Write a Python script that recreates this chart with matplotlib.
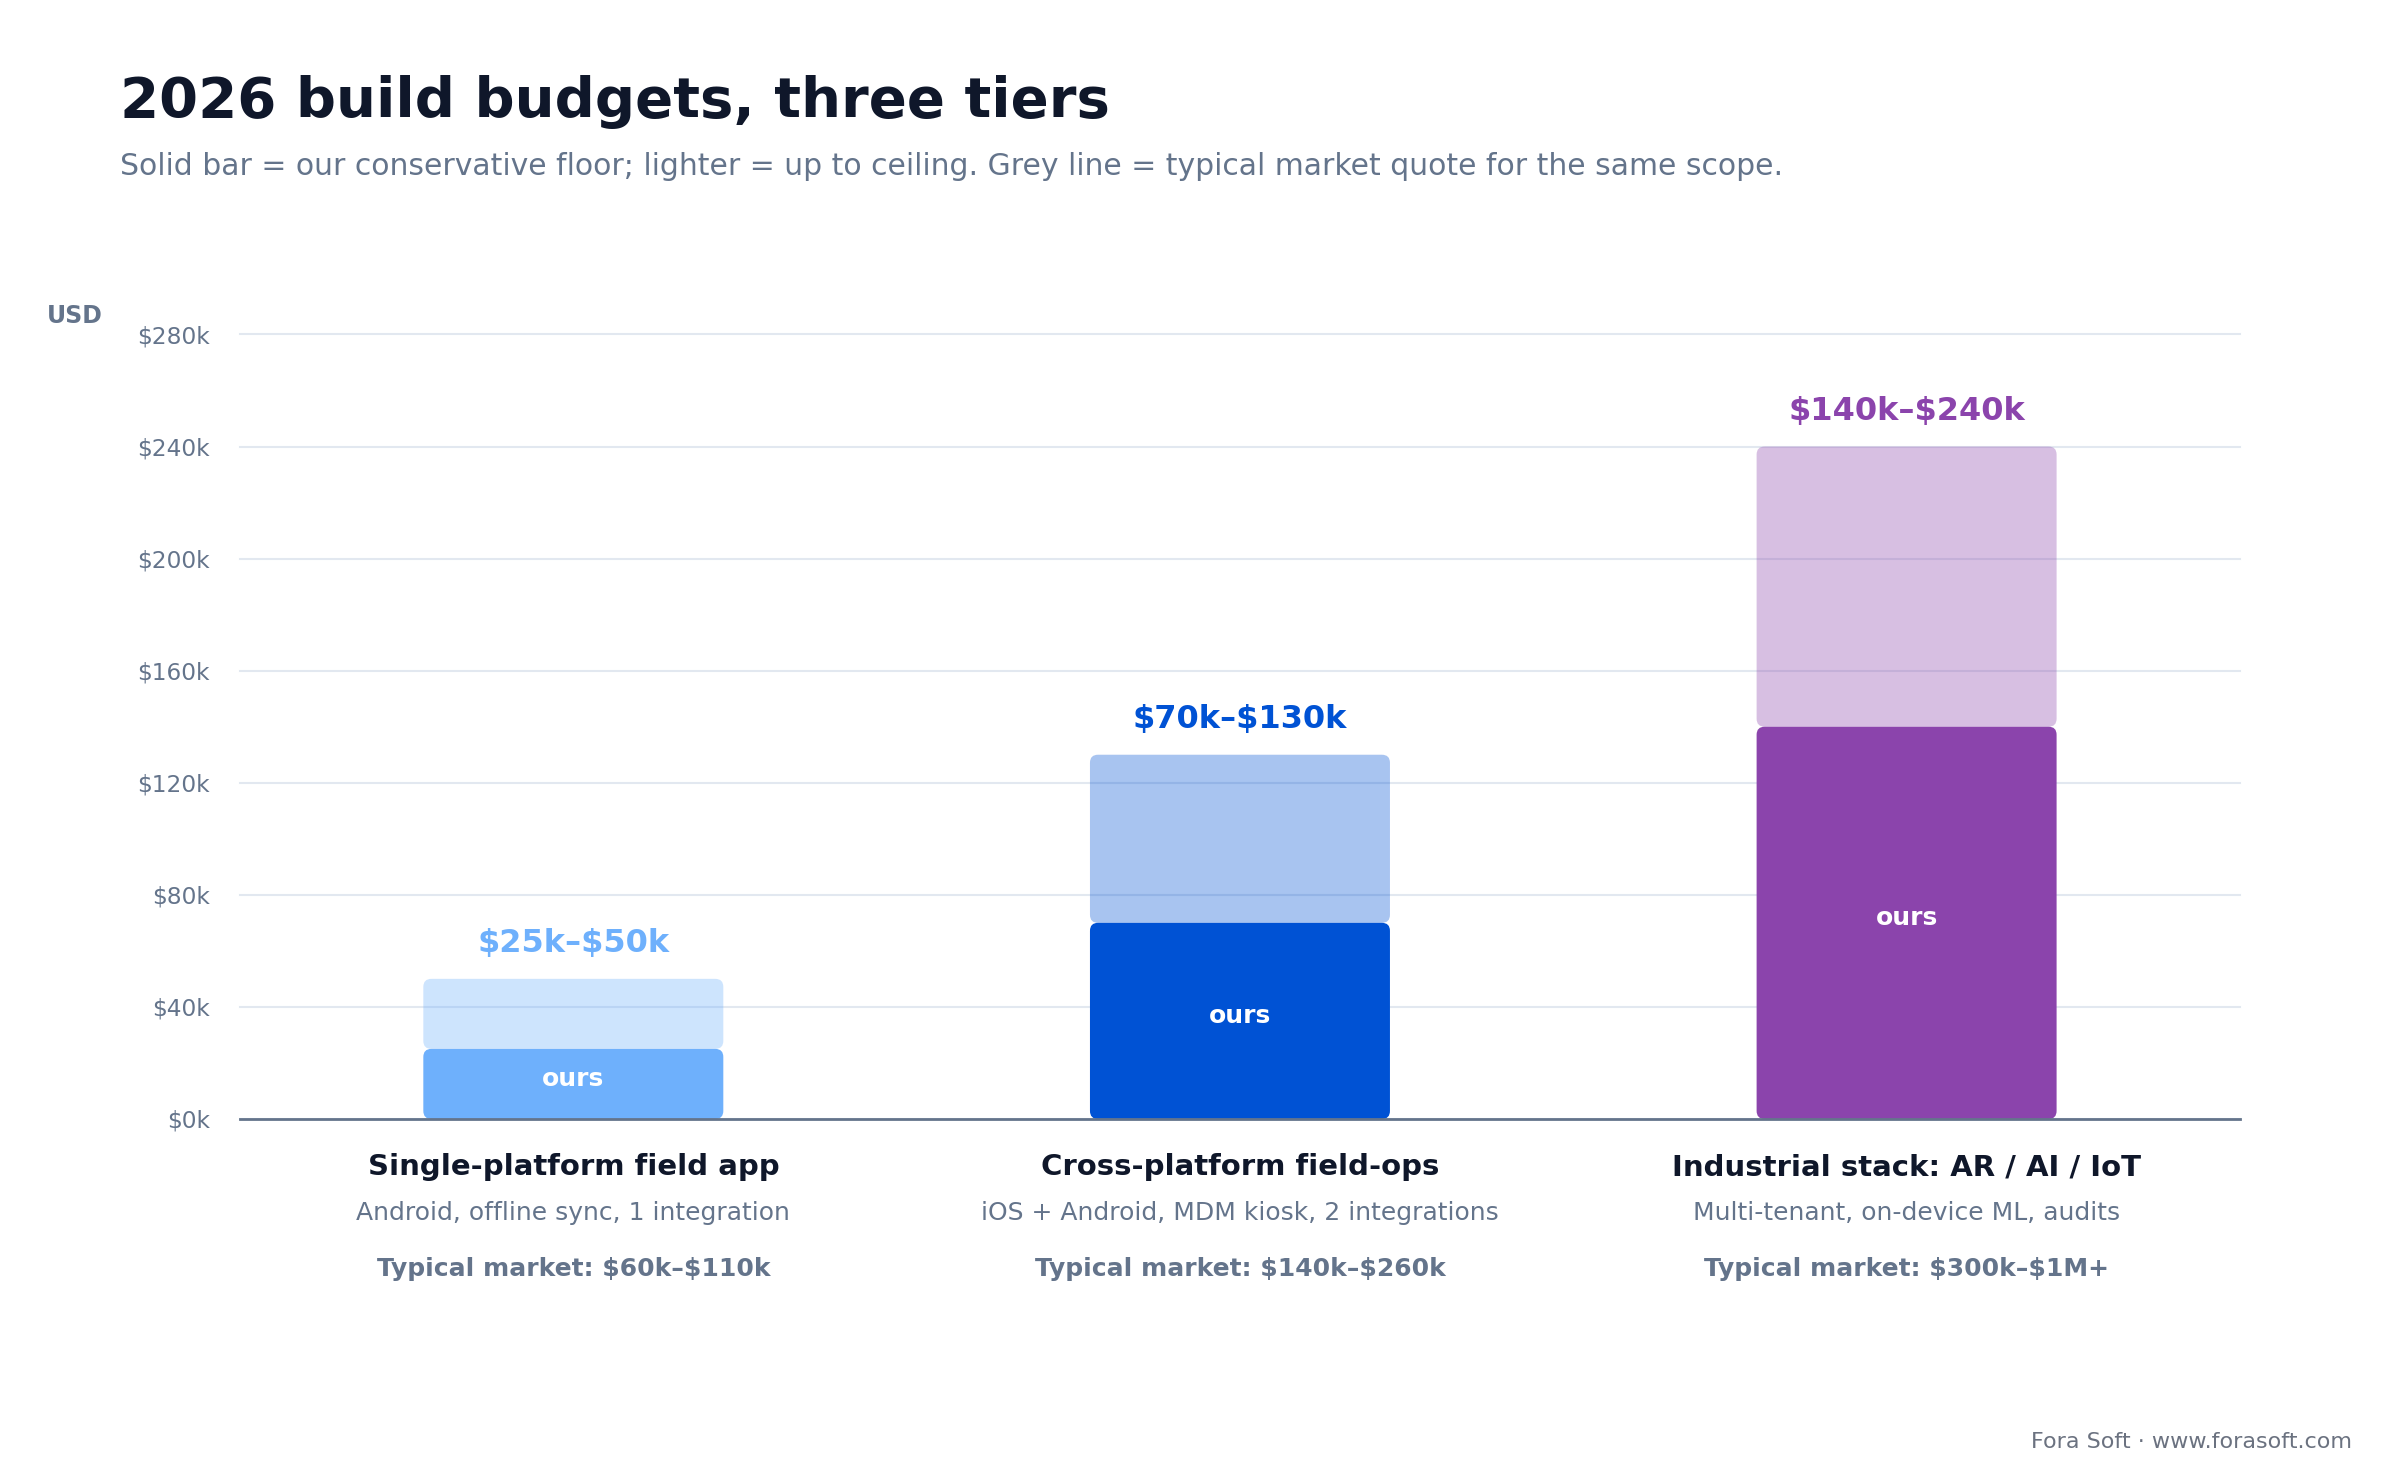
import matplotlib
matplotlib.use("Agg")
import matplotlib.pyplot as plt
from matplotlib.patches import FancyBboxPatch
from matplotlib.transforms import blended_transform_factory

# ── data (USD thousands) ──────────────────────────────────────────────────────
TIERS     = ["Single-platform field app", "Cross-platform field-ops", "Industrial stack: AR / AI / IoT"]
SUBTITLES = ["Android, offline sync, 1 integration", "iOS + Android, MDM kiosk, 2 integrations",
             "Multi-tenant, on-device ML, audits"]
MARKET    = ["Typical market: $60k–$110k", "Typical market: $140k–$260k", "Typical market: $300k–$1M+"]
FLOOR     = [25, 70, 140]
CEILING   = [50, 130, 240]
RANGE_LBL = ["$25k–$50k", "$70k–$130k", "$140k–$240k"]
YTICKS    = [0, 40, 80, 120, 160, 200, 240, 280]

COLORS = ["#6EB0FC", "#0052D4", "#8B44AC"]
INK    = "#0F172A"
SLATE  = "#64748B"
GRID   = "#E2E8F0"

plt.rcParams["font.family"] = ["DejaVu Sans"]
plt.rcParams["text.parse_math"] = False   # dollar signs are literal

fig = plt.figure(figsize=(12, 7.42), dpi=200)
ax = fig.add_axes([0.1, 0.2460, 0.8333, 0.5286])
ax.set_xlim(-0.5, 2.5)
ax.set_ylim(0, 280)

x = list(range(len(TIERS)))
lower = ax.bar(x, FLOOR, width=0.45, color=COLORS, zorder=3)
upper = ax.bar(x, [c - f for c, f in zip(CEILING, FLOOR)], bottom=FLOOR, width=0.45,
               color=COLORS, alpha=0.34, zorder=3)


def round_bars(bars, alpha, r_px=8):
    # swap square rectangles for rounded ones
    p0 = ax.transData.transform((0, 0))
    p1 = ax.transData.transform((1, 1))
    rx = r_px / (p1[0] - p0[0])
    ry = r_px / (p1[1] - p0[1])
    for rect in bars:
        patch = FancyBboxPatch(rect.get_xy(), rect.get_width(), rect.get_height(),
                               boxstyle=f"round,pad=0,rounding_size={rx}",
                               mutation_aspect=ry / rx, facecolor=rect.get_facecolor(),
                               edgecolor="none", alpha=alpha, zorder=3)
        rect.remove()
        ax.add_patch(patch)


round_bars(lower, 1.0)
round_bars(upper, 0.34)

for i in x:
    ax.annotate("ours", xy=(i, FLOOR[i] / 2), xytext=(0, 1.7), textcoords="offset points",
                ha="center", va="center", color="white", fontsize=9, fontweight="bold", zorder=4)
    ax.annotate(RANGE_LBL[i], xy=(i, CEILING[i]), xytext=(0, 9.5), textcoords="offset points",
                ha="center", va="baseline", color=COLORS[i], fontsize=11.5, fontweight="bold")

# axes styling
ax.set_yticks(YTICKS)
ax.set_yticklabels([f"${v}k" for v in YTICKS])
ax.set_xticks([])
ax.tick_params(axis="y", length=0, pad=10.8, labelsize=8.4, labelcolor=SLATE)
ax.grid(axis="y", color=GRID, linewidth=0.75, zorder=0)
for gl in ax.get_ygridlines():
    gl.set_clip_on(False)
ax.set_axisbelow(True)
for side in ["top", "right", "left"]:
    ax.spines[side].set_visible(False)
ax.spines["bottom"].set_color(SLATE)
ax.spines["bottom"].set_linewidth(1.0)
ax.spines["bottom"].set_zorder(5)

# category labels under the axis
tr = blended_transform_factory(ax.transData, fig.transFigure)
for i in x:
    ax.text(i, 0.2082, TIERS[i], transform=tr, ha="center", va="baseline",
            fontsize=10.5, fontweight="bold", color=INK)
    ax.text(i, 0.1779, SUBTITLES[i], transform=tr, ha="center", va="baseline",
            fontsize=9, color=SLATE)
    ax.text(i, 0.1402, MARKET[i], transform=tr, ha="center", va="baseline",
            fontsize=9, fontweight="bold", color=SLATE)

fig.text(0.05, 0.9212, "2026 build budgets, three tiers", fontsize=20.2, fontweight="bold",
         color=INK, va="baseline")
fig.text(0.05, 0.882, "Solid bar = our conservative floor; lighter = up to ceiling. "
         "Grey line = typical market quote for the same scope.",
         fontsize=10.77, color=SLATE, va="baseline")
fig.text(0.03125, 0.7826, "USD", fontsize=8.5, fontweight="bold", color=SLATE,
         ha="center", va="baseline")
fig.text(0.98, 0.0245, "Fora Soft · www.forasoft.com", fontsize=8, color="#6B7280",
         ha="right", va="baseline")

fig.savefig("out.png", dpi=200, facecolor="white")
